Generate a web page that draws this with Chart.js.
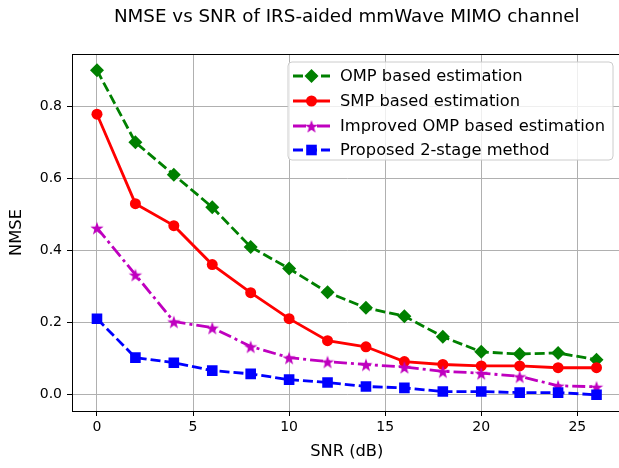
<!DOCTYPE html>
<html>
<head>
<meta charset="utf-8">
<script src="https://cdn.jsdelivr.net/npm/chart.js@4.4.0/dist/chart.umd.min.js"></script>
<style>
  html, body { margin: 0; padding: 0; overflow: hidden; background: #fff; }
  #wrap { width: 629px; height: 468px; }
</style>
</head>
<body>
<div id="wrap"><canvas id="chart" width="629" height="468"></canvas></div>
<script>
// data
const snr = [0, 2, 4, 6, 8, 10, 12, 14, 16, 18, 20, 22, 24, 26];
const ompNmse = [0.90, 0.70, 0.61, 0.52, 0.41, 0.35, 0.284, 0.241, 0.218, 0.161, 0.119, 0.113, 0.116, 0.097];
const smpNmse = [0.778, 0.53, 0.469, 0.361, 0.283, 0.211, 0.150, 0.133, 0.092, 0.084, 0.080, 0.080, 0.075, 0.075];
const improvedNmse = [0.463, 0.333, 0.203, 0.186, 0.134, 0.103, 0.092, 0.084, 0.077, 0.065, 0.060, 0.051, 0.025, 0.022];
const proposedNmse = [0.211, 0.103, 0.089, 0.067, 0.058, 0.042, 0.034, 0.023, 0.019, 0.009, 0.009, 0.006, 0.006, 0.0];
const seriesNames = ['OMP based estimation', 'SMP based estimation', 'Improved OMP based estimation', 'Proposed 2-stage method'];
const xTicks = [0, 5, 10, 15, 20, 25];
const yTicks = [0.0, 0.2, 0.4, 0.6, 0.8];
const chartTitle = 'NMSE vs SNR of IRS-aided mmWave MIMO channel';

const FONT = 'DejaVu Sans';

// filled five-point star, like matplotlib's '*'
function makeStar(color, R) {
  const c = document.createElement('canvas');
  const s = Math.ceil(2 * R + 2);
  c.width = c.height = s;
  const g = c.getContext('2d');
  g.fillStyle = color;
  g.beginPath();
  for (let i = 0; i < 10; i++) {
    const r = i % 2 ? R * 0.4 : R;
    const a = -Math.PI / 2 + i * Math.PI / 5;
    const px = s / 2 + r * Math.cos(a), py = s / 2 + 1 + r * Math.sin(a);
    if (i === 0) g.moveTo(px, py); else g.lineTo(px, py);
  }
  g.closePath();
  g.fill();
  return c;
}
const starImg = makeStar('#bf00bf', 7);

function pts(ys) {
  return snr.map((x, i) => ({ x: x, y: ys[i] }));
}

const styles = [
  { color: '#008000', dash: [10, 4], pointStyle: 'rectRot', radius: 7 },
  { color: '#ff0000', dash: [], pointStyle: 'circle', radius: 5.5 },
  { color: '#bf00bf', dash: [13, 4, 3, 4], pointStyle: starImg, radius: 7 },
  { color: '#0000ff', dash: [10, 4], pointStyle: 'rect', radius: 7.5 },
];
const values = [ompNmse, smpNmse, improvedNmse, proposedNmse];

const datasets = values.map((v, i) => ({
  label: seriesNames[i],
  data: pts(v),
  borderColor: styles[i].color,
  backgroundColor: styles[i].color,
  borderWidth: 2.8,
  borderDash: styles[i].dash,
  pointStyle: styles[i].pointStyle,
  pointRadius: styles[i].radius,
  pointBorderWidth: 0,
  tension: 0,
  order: 4 - i,
}));

// frame, title over the axes and matplotlib-like legend
const framePlugin = {
  id: 'frame',
  afterDraw(chart) {
    const ctx = chart.ctx;
    const a = chart.chartArea;
    ctx.save();
    ctx.strokeStyle = '#000';
    ctx.lineWidth = 1;
    ctx.strokeRect(a.left + 0.5, a.top + 0.5, a.right - a.left, a.bottom - a.top);

    ctx.fillStyle = '#000';
    ctx.font = '18.3px "' + FONT + '"';
    ctx.textAlign = 'center';
    ctx.textBaseline = 'middle';
    ctx.fillText(chartTitle, (a.left + a.right) / 2, 17);

    // legend box
    const bx = 288, by = 62, bw = 325, bh = 98, r = 4;
    ctx.beginPath();
    ctx.moveTo(bx + r, by);
    ctx.arcTo(bx + bw, by, bx + bw, by + bh, r);
    ctx.arcTo(bx + bw, by + bh, bx, by + bh, r);
    ctx.arcTo(bx, by + bh, bx, by, r);
    ctx.arcTo(bx, by, bx + bw, by, r);
    ctx.closePath();
    ctx.fillStyle = 'rgba(255,255,255,0.8)';
    ctx.fill();
    ctx.strokeStyle = '#cccccc';
    ctx.stroke();

    const rowY = [76, 101, 126, 150];
    seriesNames.forEach((name, i) => {
      const st = styles[i];
      const y = rowY[i];
      ctx.strokeStyle = st.color;
      ctx.fillStyle = st.color;
      ctx.lineWidth = 2.8;
      ctx.setLineDash(st.dash);
      ctx.beginPath();
      ctx.moveTo(293, y);
      ctx.lineTo(330, y);
      ctx.stroke();
      ctx.setLineDash([]);
      Chart.helpers.drawPoint(ctx, { pointStyle: st.pointStyle, radius: st.radius, rotation: 0, borderWidth: 0 }, 311.5, y);
      ctx.fillStyle = '#000';
      ctx.font = '16.3px "' + FONT + '"';
      ctx.textBaseline = 'middle';
      ctx.textAlign = 'left';
      ctx.fillText(name, 340, y + 1);
    });
    ctx.restore();
  }
};

new Chart(document.getElementById('chart').getContext('2d'), {
  type: 'line',
  data: { datasets: datasets },
  options: {
    responsive: false,
    animation: false,
    devicePixelRatio: 1,
    layout: { padding: { left: 0, right: 0, top: 54, bottom: 0 } },
    plugins: {
      legend: { display: false },
      tooltip: { enabled: false },
      title: { display: false },
    },
    scales: {
      x: {
        type: 'linear',
        min: -1.3,
        max: 27.3,
        afterBuildTicks: s => { s.ticks = xTicks.map(v => ({ value: v })); },
        afterFit: s => { s.height = 57; },
        ticks: {
          color: '#000',
          font: { family: FONT, size: 14 },
          padding: 3,
          maxRotation: 0,
          autoSkip: false,
          callback: v => String(v),
        },
        grid: { color: '#b0b0b0', lineWidth: 1, tickLength: 5, tickColor: '#000' },
        border: { display: true, color: '#000', width: 1 },
        title: {
          display: true,
          text: 'SNR (dB)',
          color: '#000',
          font: { family: FONT, size: 16.3 },
          padding: { top: 0, bottom: 6 },
        },
      },
      y: {
        type: 'linear',
        min: -0.045,
        max: 0.945,
        afterBuildTicks: s => { s.ticks = yTicks.map(v => ({ value: v })); },
        afterFit: s => { s.width = 72; },
        ticks: {
          color: '#000',
          font: { family: FONT, size: 14 },
          padding: 5,
          autoSkip: false,
          callback: v => Number(v).toFixed(1),
        },
        grid: { color: '#b0b0b0', lineWidth: 1, tickLength: 5, tickColor: '#000' },
        border: { display: true, color: '#000', width: 1 },
        title: {
          display: true,
          text: 'NMSE',
          color: '#000',
          font: { family: FONT, size: 16.3 },
          padding: { top: 7, bottom: 0 },
        },
      },
    },
  },
  plugins: [framePlugin],
});
</script>
</body>
</html>
